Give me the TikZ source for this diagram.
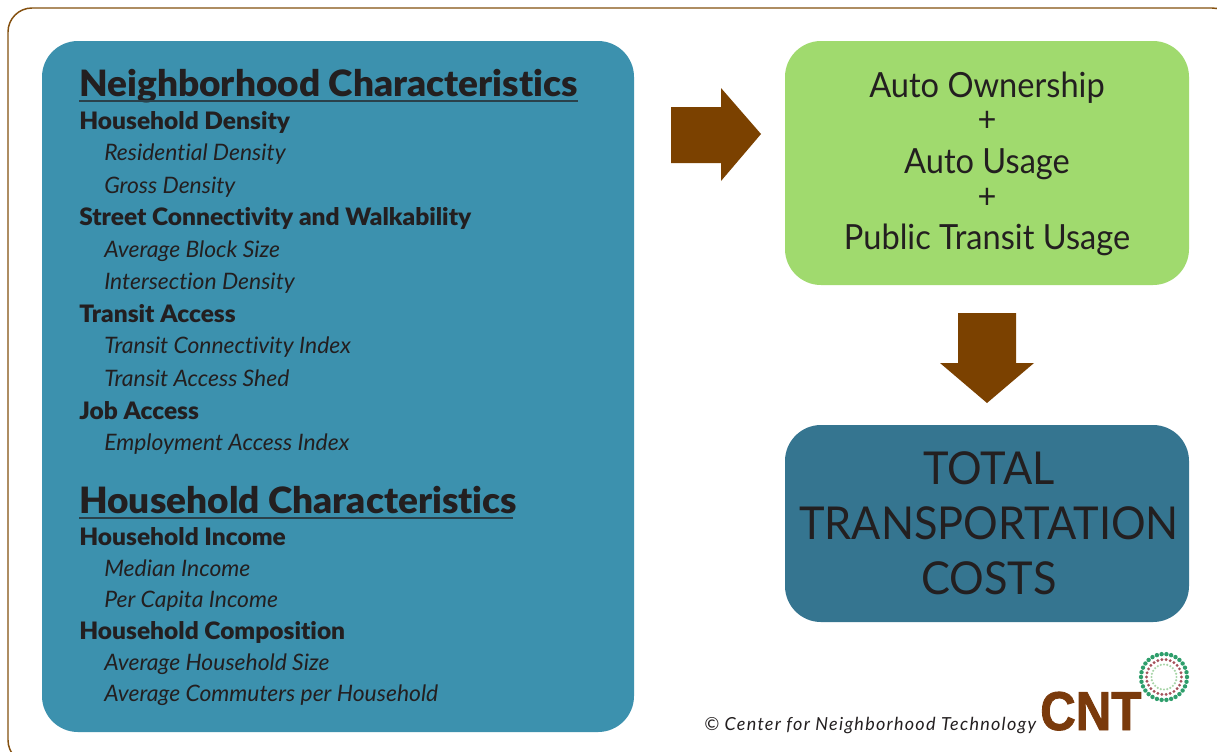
\documentclass[tikz,border=0pt]{standalone}
\usepackage{fontspec}
\setmainfont[Ligatures=CommonOff]{Lato}
\newfontfamily\itemfont[Ligatures=CommonOff,FakeStretch=1.01]{Lato Italic}
\newfontfamily\headfont[Ligatures=CommonOff,FakeStretch=1.02]{Lato Black}
\newfontfamily\groupfont[Ligatures=CommonOff,FakeStretch=1.02]{Lato Black}
\newfontfamily\autofont[FakeStretch=0.94]{Lato}
\newfontfamily\costfont[FakeStretch=0.955]{Lato}
\newfontfamily\creditfont[LetterSpace=7,ItalicFont={Lato Italic}]{Lato}
\newfontfamily\logofont[FakeStretch=0.9,FakeBold=1.5]{Liberation Sans Bold}
\usetikzlibrary{backgrounds}
\pgfdeclarelayer{glowlayer}
\pgfsetlayers{background,glowlayer,main}
\definecolor{frameBrown}{HTML}{84500F}
\definecolor{arrowBrown}{HTML}{7B4100}
\definecolor{logoBrown}{HTML}{7A3A0C}
\definecolor{panelBlue}{HTML}{3C91AE}
\definecolor{costBlue}{HTML}{357590}
\definecolor{autoGreen}{HTML}{A0DA6E}
\definecolor{inkDark}{HTML}{231F20}
\definecolor{ringGreen}{HTML}{2E9E6B}
\definecolor{ringRed}{HTML}{A5525A}
\definecolor{ringPale}{HTML}{A8D5A8}
\newcommand{\sz}[1]{\fontsize{#1}{#1}\selectfont}
\newcommand{\glowbox}[1]{%
  \begin{pgfonlayer}{glowlayer}
    \foreach \g in {1,2,3}{
      \fill[white,opacity=0.055,rounded corners=5pt]
        ([shift={(-\g*1.5pt,-\g*1.5pt)}]#1.south west) rectangle ([shift={(\g*1.5pt,\g*1.5pt)}]#1.north east);
    }
  \end{pgfonlayer}}
\tikzset{
  x=0.75pt,y=-0.75pt,
  panel/.style={draw=none,rounded corners=27pt},
  headtext/.style={anchor=base west,inner sep=0pt,text=inkDark,font=\headfont\sz{27.2}},
  grouptext/.style={anchor=base west,inner sep=0pt,text=inkDark,font=\groupfont\sz{18}},
  itemtext/.style={anchor=base west,inner sep=0pt,text=inkDark,font=\itemfont\sz{17}},
  autotext/.style={anchor=base,inner sep=0pt,text=inkDark,font=\autofont\sz{26}},
  costtext/.style={anchor=base,inner sep=0pt,text=inkDark,font=\costfont\sz{34}},
  bigarrow/.style={fill=arrowBrown,draw=none},
  underl/.style={draw=inkDark!70!panelBlue,line width=0.9pt},
}
\begin{document}
\begin{tikzpicture}
\useasboundingbox (0,0) rectangle (1217,751);
\fill[white] (0,0) rectangle (1217,751);
\begin{scope}
\clip (0,0) rectangle (1217,751);
\draw[frameBrown,line width=1.1pt,rounded corners=18pt] (8,8) -- (1236,8) -- (1236,764) -- (8,764) -- cycle;
\end{scope}
\fill[panelBlue,panel] (42,41) rectangle (634,732);
\fill[autoGreen,panel] (785,41) rectangle (1189,285);
\fill[costBlue,panel] (785,425) rectangle (1189,622);
\fill[bigarrow] (671,107) -- (721,107) -- (721,88) -- (761,134) -- (721,181) -- (721,163) -- (671,163) -- cycle;
\fill[bigarrow] (958,313) -- (1016,313) -- (1016,363) -- (1034,363) -- (987,403) -- (940,363) -- (958,363) -- cycle;
% left panel
\node[headtext] (h1) at (79,96) {Neighborhood Characteristics};
\draw[underl] (79,101) -- (578,101);
\node[grouptext] (g1) at (79,129) {Household Density};
\node[itemtext] (i1) at (104,160) {Residential Density};
\node[itemtext] (i2) at (104,193) {Gross Density};
\node[grouptext] (g2) at (79,225) {Street Connectivity and Walkability};
\node[itemtext] (i3) at (104,257) {Average Block Size};
\node[itemtext] (i4) at (104,289) {Intersection Density};
\node[grouptext] (g3) at (79,322) {Transit Access};
\node[itemtext] (i5) at (104,353) {Transit Connectivity Index};
\node[itemtext] (i6) at (104,386) {Transit Access Shed};
\node[grouptext] (g4) at (79,419) {Job Access};
\node[itemtext] (i7) at (104,450) {Employment Access Index};
\node[headtext] (h2) at (79,513) {Household Characteristics};
\draw[underl] (79,518) -- (513,518);
\node[grouptext] (g5) at (79,545) {Household Income};
\node[itemtext] (i8) at (104,576) {Median Income};
\node[itemtext] (i9) at (104,607) {Per Capita Income};
\node[grouptext] (g6) at (79,639) {Household Composition};
\node[itemtext] (i10) at (104,670) {Average Household Size};
\node[itemtext] (i11) at (104,701) {Average Commuters per Household};
\foreach \n in {h1,g1,i1,i2,g2,i3,i4,g3,i5,i6,g4,i7,h2,g5,i8,i9,g6,i10,i11}{\glowbox{\n}}
% auto box
\node[autotext] (a1) at (987,97) {Auto Ownership};
\node[autotext] (p1) at (987,131) {+};
\node[autotext] (a2) at (987,173) {Auto Usage};
\node[autotext] (p2) at (987,208) {+};
\node[autotext] (a3) at (987,249) {Public Transit Usage};
% cost box
\node[costtext] (c1) at (989,484) {TOTAL};
\node[costtext] (c2) at (989,539) {TRANSPORTATION};
\node[costtext] (c3) at (989,594) {COSTS};
\foreach \n in {a1,a2,a3,c1,c2,c3}{\glowbox{\n}}
% copyright
\node[anchor=base west,inner sep=0pt,text=inkDark,font=\creditfont\sz{13.5}\itshape] (cr) at (704,730) {© Center for Neighborhood Technology};
% logo
\node[anchor=base west,inner sep=0pt,text=logoBrown,font=\logofont\sz{41}] (logo) at (1040,730) {CNT};
\foreach \i in {0,...,29}{\fill[ringGreen] (1164,677) ++(\i*12:23) circle (2.2);}
\foreach \i in {0,...,25}{\fill[ringRed] (1164,677) ++(\i*13.846:17.5) circle (1.6);}
\foreach \i in {0,...,23}{\fill[ringPale] (1164,677) ++(\i*15:12.5) circle (1.2);}
\end{tikzpicture}
\end{document}
